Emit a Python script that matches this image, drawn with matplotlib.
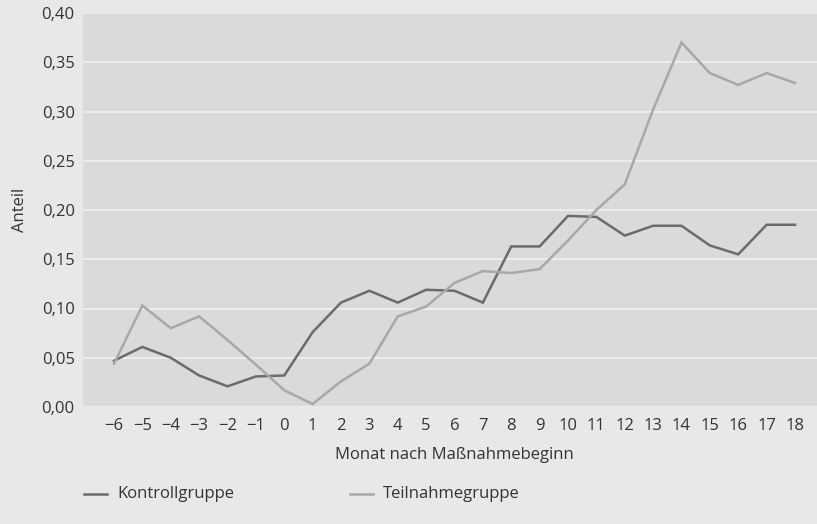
import matplotlib
matplotlib.use("Agg")
import matplotlib.pyplot as plt
from matplotlib.lines import Line2D
from matplotlib.ticker import FuncFormatter

months = list(range(-6, 19))
kontroll = [0.047, 0.061, 0.050, 0.032, 0.021, 0.031, 0.032, 0.076, 0.106, 0.118,
            0.106, 0.119, 0.118, 0.106, 0.163, 0.163, 0.194, 0.193, 0.174, 0.184,
            0.184, 0.164, 0.155, 0.185, 0.185]
teilnahme = [0.044, 0.103, 0.080, 0.092, 0.068, 0.043, 0.017, 0.003, 0.026, 0.044,
             0.092, 0.102, 0.126, 0.138, 0.136, 0.140, 0.169, 0.200, 0.226, 0.302,
             0.370, 0.339, 0.327, 0.339, 0.329]
yticks = [0.00, 0.05, 0.10, 0.15, 0.20, 0.25, 0.30, 0.35, 0.40]

plt.rcParams['font.family'] = ['Open Sans', 'DejaVu Sans']
FS = 12
TXT = '#333333'
LW = 1.8

fig = plt.figure(figsize=(8.17, 5.24), dpi=100)
fig.patch.set_facecolor('#e7e8ea')
ax = fig.add_axes([83/817, 1-407/524, 1-83/817, (407-13)/524])
ax.set_facecolor('#d9dadc')
for s in ax.spines.values():
    s.set_visible(False)

ax.set_ylim(0, 0.40)
ax.set_xlim(-6 - 31/28.375, 18 + 22/28.375)
ax.set_yticks(yticks)
ax.yaxis.set_major_formatter(FuncFormatter(lambda v, p: f"{v:.2f}".replace('.', ',')))
ax.set_xticks(months)
ax.set_xticklabels([str(m).replace('-', '\u2212') for m in months])
ax.tick_params(length=0, labelsize=FS, colors=TXT)
ax.tick_params(axis='x', pad=8)
ax.tick_params(axis='y', pad=6)
ax.grid(axis='y', color='#eeeff0', linewidth=1.3)
ax.set_axisbelow(True)

ax.plot(months, kontroll, color='#6b6b6d', linewidth=LW, solid_joinstyle='miter')
ax.plot(months, teilnahme, color='#a7a8aa', linewidth=LW, solid_joinstyle='miter')

fig.text(20/817, 1-210/524, 'Anteil', rotation=90, ha='center', va='center', fontsize=FS, color=TXT)
fig.text(454/817, 1-455/524, 'Monat nach Maßnahmebeginn', ha='center', va='center', fontsize=FS, color=TXT)

# legend
ly = 1 - 494/524
fig.add_artist(Line2D([84/817, 107/817], [ly, ly], color='#6b6b6d', linewidth=LW, transform=fig.transFigure))
fig.text(117/817, ly, 'Kontrollgruppe', ha='left', va='center', fontsize=FS, color=TXT)
fig.add_artist(Line2D([350/817, 373/817], [ly, ly], color='#a7a8aa', linewidth=LW, transform=fig.transFigure))
fig.text(383/817, ly, 'Teilnahmegruppe', ha='left', va='center', fontsize=FS, color=TXT)

fig.savefig('out.png', dpi=100, facecolor=fig.get_facecolor())
